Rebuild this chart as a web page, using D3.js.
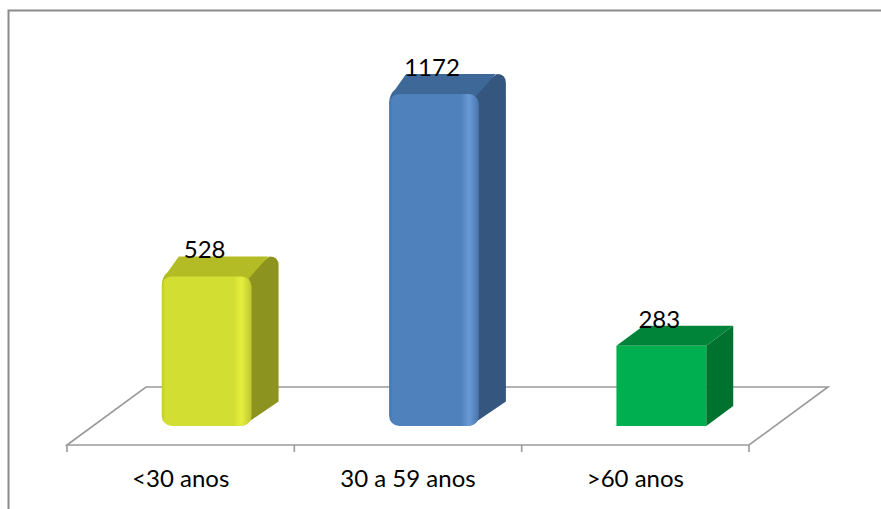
<!DOCTYPE html>
<html>
<head>
<meta charset="utf-8">
<script src="https://cdn.jsdelivr.net/npm/d3@7"></script>
<style>
  body { margin: 0; background: #fff; }
  svg { display: block; font-family: Lato, "Liberation Sans", sans-serif; }
</style>
</head>
<body>
<script>
    // chart data
    var categories = ["<30 anos", "30 a 59 anos", ">60 anos"];
    var values = [528, 1172, 283];
    var frontColors = ["#D3DE32", "#4F81BD", "#00B050"];
    var sideColors = ["#8C931E", "#34567F", "#00722F"];
    var topColors = ["#B3BC25", "#3D6898", "#00843A"];
    var lightColors = ["#E4EE3E", "#6A9AD6", "#00B050"];
    var rounded = [true, true, false];

    var width = 881, height = 509;

    // floor geometry (front edge and depth offset)
    var floorLeft = 67, floorRight = 749, floorFront = 445;
    var floorDx = 79, floorDy = -58;
    // bars sit in the middle of the floor depth
    var barDx = 27, barDy = -20;
    var offX = (floorDx - barDx) / 2, offY = (floorDy - barDy) / 2;
    var baseY = floorFront + offY;

    var svg = d3.select("body")
        .append("svg")
        .attr("width", width)
        .attr("height", height);

    var defs = svg.append("defs");

    // outer frame
    svg.append("path")
        .attr("d", "M8.5,509 L8.5,10.5 L881,10.5")
        .attr("fill", "none")
        .attr("stroke", "#8a8a8a")
        .attr("stroke-width", 2);

    // Set the ranges
    var x = d3.scaleBand()
        .domain(categories)
        .range([floorLeft, floorRight])
        .paddingInner(0.605)
        .paddingOuter(0.3025);

    var xc = d3.scaleBand()
        .domain(categories)
        .range([floorLeft, floorRight])
        .padding(0);

    var y = d3.scaleLinear()
        .domain([0, 1400])
        .range([baseY, baseY - 396.6]);

    // floor
    svg.append("path")
        .attr("d", "M" + floorLeft + "," + floorFront +
            " L" + (floorLeft + floorDx) + "," + (floorFront + floorDy) +
            " L" + (floorRight + floorDx) + "," + (floorFront + floorDy) +
            " L" + floorRight + "," + floorFront + " Z")
        .attr("fill", "none")
        .attr("stroke", "#9a9a9a")
        .attr("stroke-width", 1.6)
        .attr("stroke-linejoin", "miter");

    // category separator ticks
    var tickXs = categories.map(function(d) { return xc(d); }).concat([floorRight]);
    svg.selectAll(".tick-mark")
        .data(tickXs)
        .enter().append("line")
        .attr("class", "tick-mark")
        .attr("x1", function(d) { return d; })
        .attr("x2", function(d) { return d; })
        .attr("y1", floorFront)
        .attr("y2", floorFront + 7)
        .attr("stroke", "#9a9a9a")
        .attr("stroke-width", 1.6);

    // category labels
    var xAxis = d3.axisBottom(xc).tickSize(0).tickPadding(0);
    var ax = svg.append("g")
        .attr("transform", "translate(0," + floorFront + ")")
        .call(xAxis);
    ax.select(".domain").remove();
    ax.selectAll("text")
        .attr("y", 42)
        .attr("dy", 0)
        .attr("fill", "#000")
        .style("font-size", "24px")
        .style("font-family", "Lato, 'Liberation Sans', sans-serif");

    // gradients for front faces
    frontColors.forEach(function(c, i) {
        var g = defs.append("linearGradient")
            .attr("id", "front" + i)
            .attr("x1", 0).attr("x2", 1).attr("y1", 0).attr("y2", 0);
        if (rounded[i]) {
            g.append("stop").attr("offset", "0%").attr("stop-color", d3.color(c).darker(0.25));
            g.append("stop").attr("offset", "4%").attr("stop-color", c);
            g.append("stop").attr("offset", "80%").attr("stop-color", c);
            g.append("stop").attr("offset", "89%").attr("stop-color", lightColors[i]);
            g.append("stop").attr("offset", "100%").attr("stop-color", d3.color(c).darker(0.3));
        } else {
            g.append("stop").attr("offset", "0%").attr("stop-color", c);
            g.append("stop").attr("offset", "100%").attr("stop-color", c);
        }
    });

    var data = categories.map(function(d, i) { return { cat: d, value: values[i], i: i }; });

    var bars = svg.selectAll(".bar")
        .data(data)
        .enter().append("g")
        .attr("class", "bar");

    // side face
    bars.append("path")
        .attr("d", function(d) {
            var x1 = x(d.cat) + offX + x.bandwidth(), yt = y(d.value), yb = y(0);
            var r = rounded[d.i] ? 9 : 0;
            return "M" + (x1 - r) + "," + yt +
                " L" + (x1 + barDx - r) + "," + (yt + barDy) +
                " Q" + (x1 + barDx) + "," + (yt + barDy) + " " + (x1 + barDx) + "," + (yt + barDy + r) +
                " L" + (x1 + barDx) + "," + (yb + barDy - r / 2) +
                " L" + (x1 - r) + "," + yb + " Z";
        })
        .attr("fill", function(d) { return sideColors[d.i]; });

    // top face
    bars.append("path")
        .attr("d", function(d) {
            var x0 = x(d.cat) + offX, x1 = x0 + x.bandwidth(), yt = y(d.value);
            var r = rounded[d.i] ? 10 : 0;
            return "M" + x0 + "," + (yt + r) +
                " Q" + x0 + "," + yt + " " + (x0 + r * 0.6) + "," + (yt - r * 0.45) +
                " L" + (x0 + barDx - r) + "," + (yt + barDy) +
                " L" + (x1 + barDx - r) + "," + (yt + barDy) +
                " L" + (x1 - r) + "," + (yt + r) + " Z";
        })
        .attr("fill", function(d) { return topColors[d.i]; });

    // front face
    bars.append("rect")
        .attr("x", function(d) { return x(d.cat) + offX; })
        .attr("y", function(d) { return y(d.value); })
        .attr("width", x.bandwidth())
        .attr("height", function(d) { return y(0) - y(d.value); })
        .attr("rx", function(d) { return rounded[d.i] ? 10 : 0; })
        .attr("fill", function(d) { return "url(#front" + d.i + ")"; });

    // value labels
    bars.append("text")
        .attr("x", function(d) { return x(d.cat) + offX + x.bandwidth() / 2 - 2; })
        .attr("y", function(d) { return y(d.value) + barDy + 2; })
        .attr("text-anchor", "middle")
        .attr("fill", "#000")
        .style("font-size", "24px")
        .text(function(d) { return d.value; });
</script>
</body>
</html>
